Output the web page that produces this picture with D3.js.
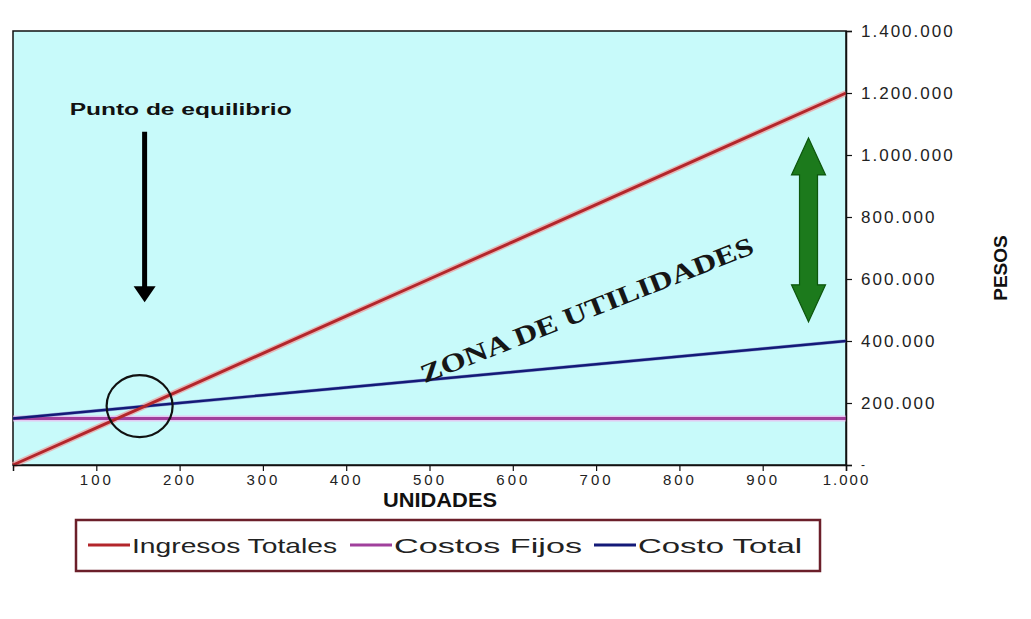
<!DOCTYPE html>
<html>
<head>
<meta charset="utf-8">
<script src="https://cdn.jsdelivr.net/npm/d3@7"></script>
<style>
  html, body { margin: 0; padding: 0; background: #ffffff; }
  svg { display: block; }
  text { font-family: "Liberation Sans", Arial, sans-serif; }
</style>
</head>
<body>
<svg id="chart" width="1031" height="619"></svg>
<script>
// ---- Data ----
const unidades = [0, 100, 200, 300, 400, 500, 600, 700, 800, 900, 1000];
const ingresosTotales = [0, 120000, 240000, 360000, 480000, 600000, 720000, 840000, 960000, 1080000, 1200000];
const costosFijos = [150000, 150000, 150000, 150000, 150000, 150000, 150000, 150000, 150000, 150000, 150000];
const costoTotal = [150000, 175000, 200000, 225000, 250000, 275000, 300000, 325000, 350000, 375000, 400000];

const xTickValues = [100, 200, 300, 400, 500, 600, 700, 800, 900, 1000];
const xTickLabels = ["100", "200", "300", "400", "500", "600", "700", "800", "900", "1.000"];
const yTickValues = [0, 200000, 400000, 600000, 800000, 1000000, 1200000, 1400000];
const yTickLabels = ["-", "200.000", "400.000", "600.000", "800.000", "1.000.000", "1.200.000", "1.400.000"];

const seriesNames = ["Ingresos Totales", "Costos Fijos", "Costo Total"];
const seriesColors = ["#b3262b", "#a0409c", "#141a78"];
const haloColors = ["#f09a9a", "#f0b4ee", "#8890c8"];

// annotation anchors in data units
const equilibrioUnidades = 152;
const equilibrioPesos = 190000;

// ---- Layout ----
const svg = d3.select("#chart");
const plot = { left: 13, right: 846, top: 31, bottom: 465 };

const x = d3.scaleLinear().domain([0, 1000]).range([plot.left, plot.right]);
const y = d3.scaleLinear().domain([0, 1400000]).range([plot.bottom, plot.top]);

// Plot background
svg.append("rect")
  .attr("x", plot.left).attr("y", plot.top)
  .attr("width", plot.right - plot.left).attr("height", plot.bottom - plot.top)
  .attr("fill", "#c8fafa")
  .attr("stroke", "#111").attr("stroke-width", 1.5);

// Series
const seriesData = [ingresosTotales, costosFijos, costoTotal];
const line = d3.line().x((d, i) => x(unidades[i])).y(d => y(d));

seriesData.forEach((vals, k) => {
  svg.append("path").datum(vals)
    .attr("d", line).attr("fill", "none")
    .attr("stroke", haloColors[k]).attr("stroke-width", k === 2 ? 3.5 : 6)
    .attr("stroke-opacity", 0.7);
});
// draw order: fixed, total, ingresos on top
[1, 2, 0].forEach(k => {
  svg.append("path").datum(seriesData[k])
    .attr("d", line).attr("fill", "none")
    .attr("stroke", seriesColors[k]).attr("stroke-width", k === 2 ? 2.4 : 3);
});

// Axes
const yAxis = d3.axisRight(y)
  .tickValues(yTickValues)
  .tickSize(6)
  .tickPadding(9)
  .tickFormat((d, i) => yTickLabels[i]);
const gy = svg.append("g").attr("transform", `translate(${plot.right},0)`).call(yAxis);
gy.select(".domain").attr("stroke", "#111").attr("stroke-width", 1.5);
gy.selectAll(".tick line").attr("stroke", "#111").attr("stroke-width", 1.2);
gy.selectAll(".tick text")
  .attr("fill", "#222")
  .style("font-size", d => d === 0 ? "12px" : "17px")
  .style("letter-spacing", "2px")
  .style("font-family", "'Liberation Sans', Arial, sans-serif");

const xAxis = d3.axisBottom(x)
  .tickValues(xTickValues)
  .tickSize(6)
  .tickPadding(3)
  .tickFormat((d, i) => xTickLabels[i]);
const gx = svg.append("g").attr("transform", `translate(0,${plot.bottom})`).call(xAxis);
gx.select(".domain").attr("stroke", "#111").attr("stroke-width", 1.5);
gx.selectAll(".tick line").attr("stroke", "#111").attr("stroke-width", 1.2);
gx.selectAll(".tick text")
  .attr("fill", "#222")
  .style("font-size", "15px")
  .style("letter-spacing", d => d === 1000 ? "2px" : "3px")
  .style("font-family", "'Liberation Sans', Arial, sans-serif");

// Axis titles
svg.append("text")
  .attr("x", 440).attr("y", 507)
  .attr("text-anchor", "middle")
  .style("font-size", "20px").style("font-weight", "bold")
  .attr("textLength", 114).attr("lengthAdjust", "spacingAndGlyphs")
  .attr("fill", "#111")
  .text("UNIDADES");

svg.append("text")
  .attr("transform", "translate(1007,268) rotate(-90)")
  .attr("text-anchor", "middle")
  .style("font-size", "19px").style("font-weight", "bold")
  .attr("fill", "#111")
  .text("PESOS");

// Annotation: Punto de equilibrio
svg.append("text")
  .attr("x", x(68)).attr("y", y(1130000))
  .style("font-size", "16px").style("font-weight", "bold")
  .attr("textLength", 222).attr("lengthAdjust", "spacingAndGlyphs")
  .attr("fill", "#111")
  .text("Punto de equilibrio");

// Black arrow
const ax = x(158);
const aTop = y(1075000), aTip = y(525000);
svg.append("rect")
  .attr("x", ax - 2.5).attr("y", aTop)
  .attr("width", 5).attr("height", aTip - aTop - 14)
  .attr("fill", "#000");
svg.append("path")
  .attr("d", `M${ax - 11},${aTip - 16} L${ax + 11},${aTip - 16} L${ax},${aTip} Z`)
  .attr("fill", "#000");

// Circle around break-even
svg.append("ellipse")
  .attr("cx", x(equilibrioUnidades)).attr("cy", y(equilibrioPesos))
  .attr("rx", 33).attr("ry", 31)
  .attr("fill", "none").attr("stroke", "#111").attr("stroke-width", 2.2);

// Green double arrow
const gxc = x(955);
const gTop = y(1055000), gBot = y(462000);
const hw = 17, hh = 37, sw = 9;
svg.append("path")
  .attr("d", `M${gxc},${gTop} L${gxc + hw},${gTop + hh} L${gxc + sw},${gTop + hh} L${gxc + sw},${gBot - hh} L${gxc + hw},${gBot - hh} L${gxc},${gBot} L${gxc - hw},${gBot - hh} L${gxc - sw},${gBot - hh} L${gxc - sw},${gTop + hh} L${gxc - hw},${gTop + hh} Z`)
  .attr("fill", "#1c7a1c").attr("stroke", "#0d560d").attr("stroke-width", 1.2);

// ZONA DE UTILIDADES
svg.append("text")
  .attr("transform", `translate(590,318) rotate(-21.5)`)
  .attr("text-anchor", "middle")
  .style("font-family", "'Liberation Serif', 'Times New Roman', serif")
  .style("font-size", "26px").style("font-weight", "bold")
  .attr("textLength", 356).attr("lengthAdjust", "spacingAndGlyphs")
  .attr("fill", "#161616")
  .text("ZONA DE UTILIDADES");

// Legend
const lg = svg.append("g");
lg.append("rect")
  .attr("x", 76).attr("y", 520).attr("width", 744).attr("height", 51)
  .attr("fill", "#ffffff").attr("stroke", "#6b1f2a").attr("stroke-width", 2.5);
const legendX = [88, 350, 594];
const legendW = [205, 188, 164];
seriesNames.forEach((name, k) => {
  lg.append("line")
    .attr("x1", legendX[k]).attr("x2", legendX[k] + 42)
    .attr("y1", 545).attr("y2", 545)
    .attr("stroke", seriesColors[k]).attr("stroke-width", 3);
  lg.append("text")
    .attr("x", legendX[k] + 44).attr("y", 553)
    .style("font-size", "21px")
    .attr("textLength", legendW[k]).attr("lengthAdjust", "spacingAndGlyphs")
    .attr("fill", "#222")
    .text(name);
});
</script>
</body>
</html>
